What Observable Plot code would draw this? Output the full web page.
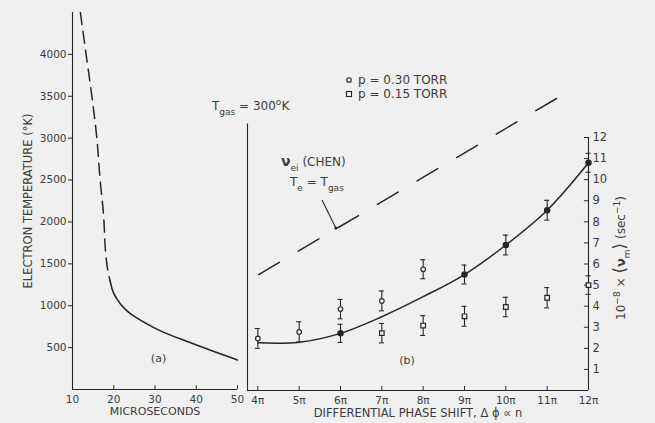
<!DOCTYPE html>
<html><head><meta charset="utf-8">
<script src="https://cdn.jsdelivr.net/npm/d3@7"></script>
<script src="https://cdn.jsdelivr.net/npm/@observablehq/plot@0.6"></script>
<style>
html,body{margin:0;padding:0;background:#f0f0f0;}
#chart{position:relative;width:655px;height:423px;overflow:hidden;background:#f0f0f0;}
#chart svg{position:absolute;left:0;top:0;overflow:visible;}
</style></head><body><div id="chart"></div>
<script>
const FONT = "DejaVu Sans";
const INK = "#262626";
const TXT = "#3c3c3c";
const BG = "#f0f0f0";

// ---------- Panel (a): electron temperature vs time ----------
const timeTicks = [10, 20, 30, 40, 50];
const tempTicks = [500, 1000, 1500, 2000, 2500, 3000, 3500, 4000];
const dashTime = [11.9, 13.3, 14.7, 15.9, 16.7, 17.5, 18.2, 18.8, 19.1];
const dashTemp = [4500, 4000, 3500, 3000, 2500, 2100, 1550, 1360, 1300];
const solidTime = [19.1, 19.6, 20.8, 23.2, 25.7, 29.7, 39.6, 50];
const solidTemp = [1300, 1200, 1078, 938, 851, 739, 540, 353];

// ---------- Panel (b): collision frequency vs phase shift ----------
const phaseTicks = [4, 5, 6, 7, 8, 9, 10, 11, 12];
const nuTicks = [1, 2, 3, 4, 5, 6, 7, 8, 9, 10, 11, 12];
const p030Phase = [4, 5, 6, 7, 8];
const p030Nu = [2.47, 2.78, 3.86, 4.25, 5.75];
const p030Err = [0.47, 0.48, 0.46, 0.47, 0.45];
const p015Phase = [7, 8, 9, 10, 11, 12];
const p015Nu = [2.72, 3.08, 3.52, 3.96, 4.4, 5.0];
const p015Err = [0.46, 0.47, 0.47, 0.46, 0.48, 0.44];
const fitPtPhase = [6, 9, 10, 11, 12];
const fitPtNu = [2.71, 5.5, 6.9, 8.55, 10.8];
const fitPtErr = [0.43, 0.45, 0.47, 0.47, 0.45];
const curvePhase = [4, 5, 6, 7, 8, 9, 10, 11, 12];
const curveNu = [2.26, 2.29, 2.71, 3.5, 4.45, 5.5, 6.9, 8.55, 10.8];
const chenPhase = [4.02, 11.27];
const chenNu = [5.5, 13.9];

const zip = (xs, ys, es) => xs.map((x, i) => ({x, y: ys[i], e: es ? es[i] : 0}));
const dashed = zip(dashTime, dashTemp);
const solid = zip(solidTime, solidTemp);
const p030 = zip(p030Phase, p030Nu, p030Err);
const p015 = zip(p015Phase, p015Nu, p015Err);
const fitPts = zip(fitPtPhase, fitPtNu, fitPtErr);
const curve = zip(curvePhase, curveNu);
const chen = zip(chenPhase, chenNu);

const baseStyle = {fontFamily: FONT, background: "transparent", color: TXT, fontSize: "10px", overflow: "visible"};

const left = Plot.plot({
  width: 655, height: 423,
  marginLeft: 72, marginRight: 418, marginTop: 12, marginBottom: 34,
  x: {domain: [10, 50]},
  y: {domain: [0, 4500]},
  style: baseStyle,
  marks: [
    Plot.ruleX([10], {stroke: INK, strokeWidth: 1.1}),
    Plot.ruleY([0], {stroke: INK, strokeWidth: 1.1}),
    Plot.ruleX(timeTicks.slice(1), {y1: 0, y2: 45, stroke: INK}),
    Plot.axisY(tempTicks, {tickSize: 4, tickPadding: 2, tickFormat: "d", stroke: INK, fill: TXT, fontSize: 10.5, label: null}),
    Plot.axisX(timeTicks, {tickSize: 0, tickPadding: 6, tickFormat: "d", fill: TXT, fontSize: 10.5, label: null}),
    Plot.line(dashed, {x: "x", y: "y", stroke: INK, strokeWidth: 1.5, strokeDasharray: "12,7", curve: "monotone-y"}),
    Plot.line(solid, {x: "x", y: "y", stroke: INK, strokeWidth: 1.6, curve: "monotone-x"}),
    Plot.text(["ELECTRON TEMPERATURE (°K)"], {frameAnchor: "left", textAnchor: "middle", dx: -44, rotate: -90, fontSize: 11.5, fill: TXT}),
    Plot.text(["MICROSECONDS"], {frameAnchor: "bottom", dy: 25, fontSize: 11, fill: TXT}),
    Plot.text(["(a)"], {x: [30.85], y: [366], fontSize: 11, fill: TXT})
  ]
});

const cap = 0.06;
const errMarks = (data) => [
  Plot.ruleX(data, {x: "x", y1: d => d.y - d.e, y2: d => d.y + d.e, stroke: INK, strokeWidth: 1.1}),
  Plot.ruleY(data, {y: d => d.y + d.e, x1: d => d.x - cap, x2: d => d.x + cap, stroke: INK, strokeWidth: 1.1}),
  Plot.ruleY(data, {y: d => d.y - d.e, x1: d => d.x - cap, x2: d => d.x + cap, stroke: INK, strokeWidth: 1.1})
];

const right = Plot.plot({
  width: 655, height: 423,
  marginLeft: 247, marginRight: 67, marginTop: 137, marginBottom: 33,
  x: {domain: [3.75, 12]},
  y: {domain: [0, 12]},
  style: baseStyle,
  marks: [
    Plot.ruleX([3.75], {y1: 0, y2: 12.64, stroke: INK, strokeWidth: 1.1}),
    Plot.ruleX([12], {y1: 0, y2: 12, stroke: INK, strokeWidth: 1.1}),
    Plot.ruleY([0], {x1: 3.75, x2: 12, stroke: INK, strokeWidth: 1.1}),
    Plot.ruleX(phaseTicks.slice(0, -1), {y1: 0, y2: 0.19, stroke: INK}),
    Plot.ruleY(nuTicks, {x1: 11.9, x2: 12, stroke: INK}),
    Plot.axisX(phaseTicks, {tickSize: 0, tickPadding: 6, tickFormat: d => d + "π", fill: TXT, fontSize: 10.5, label: null}),
    Plot.axisY(nuTicks, {anchor: "right", tickSize: 0, tickPadding: 4, tickFormat: "d", fill: TXT, fontSize: 11.5, label: null}),
    Plot.line(chen, {x: "x", y: "y", stroke: INK, strokeWidth: 1.5, strokeDasharray: "24,22"}),
    Plot.line(curve, {x: "x", y: "y", stroke: INK, strokeWidth: 1.5, curve: "catmull-rom"}),
    ...errMarks(p030),
    ...errMarks(p015),
    ...errMarks(fitPts),
    Plot.dot(p030, {x: "x", y: "y", r: 2.3, stroke: INK, fill: BG, strokeWidth: 1.1}),
    Plot.dot(p015, {x: "x", y: "y", symbol: "square", r: 2.6, stroke: INK, fill: BG, strokeWidth: 1.2}),
    Plot.dot(fitPts, {x: "x", y: "y", r: 2.5, fill: INK, stroke: INK}),
    Plot.text(["DIFFERENTIAL PHASE SHIFT, Δ ϕ ∝ n"], {frameAnchor: "bottom", dy: 26, fontSize: 11.5, fill: TXT}),
    Plot.text(["(b)"], {x: [7.61], y: [1.44], fontSize: 11, fill: TXT})
  ]
});

const chart = document.getElementById("chart");
chart.appendChild(left);
chart.appendChild(right);

// ---------- annotations (rich text with sub/superscripts) ----------
const g = d3.select(right).append("g").attr("font-family", FONT).attr("fill", TXT);
function rich(x, y, parts, size, opts = {}) {
  const t = g.append("text").attr("x", x).attr("y", y).attr("font-size", size)
    .attr("text-anchor", opts.anchor || "start");
  if (opts.rotate) t.attr("transform", `rotate(${opts.rotate},${x},${y})`);
  let shift = 0;
  for (const [s, kind, extra] of parts) {
    const target = kind === "sub" ? size * 0.45 : kind === "sup" ? -size * 0.45 : 0;
    const ts = t.append("tspan").attr("dy", target - shift).text(s);
    shift = target;
    if (kind) ts.attr("font-size", size * 0.75);
    if (extra && extra.bold) ts.attr("font-weight", "bold");
    if (extra && extra.size) ts.attr("font-size", extra.size);
  }
  return t;
}

rich(212, 110, [["T"], ["gas", "sub"], [" = 300"], ["o", "sup"], ["K"]], 12);
rich(281, 166, [["ν", null, {bold: true, size: 14}], ["ei", "sub"], [" (CHEN)"]], 12);
rich(290, 186, [["T"], ["e", "sub"], [" = T"], ["gas", "sub"]], 12);
rich(358, 84, [["p = 0.30 TORR"]], 12);
rich(358, 98, [["p = 0.15 TORR"]], 12);
g.append("circle").attr("cx", 349).attr("cy", 80).attr("r", 2.3).attr("fill", "none").attr("stroke", INK).attr("stroke-width", 1.1);
g.append("rect").attr("x", 346.5).attr("y", 91.5).attr("width", 5).attr("height", 5).attr("fill", "none").attr("stroke", INK).attr("stroke-width", 1.1);

// pointer from the label to the Chen line
const sx = right.scale("x"), sy = right.scale("y");
const tipPhase = 5.9;
const tipNu = chenNu[0] + (tipPhase - chenPhase[0]) * (chenNu[1] - chenNu[0]) / (chenPhase[1] - chenPhase[0]);
const tx = sx.apply(tipPhase), ty = sy.apply(tipNu);
g.append("line").attr("x1", 322).attr("y1", 200).attr("x2", tx).attr("y2", ty).attr("stroke", INK).attr("stroke-width", 1.1);
g.append("circle").attr("cx", tx).attr("cy", ty).attr("r", 1.6).attr("fill", INK);

// right axis title
rich(625, 258, [["10"], ["−8", "sup"], [" × "], ["⟨", null, {size: 17}], ["ν", null, {bold: true, size: 13}], ["m", "sub"], ["⟩", null, {size: 17}], [" (sec"], ["−1", "sup"], [")"]], 12, {anchor: "middle", rotate: -90});
</script></body></html>
